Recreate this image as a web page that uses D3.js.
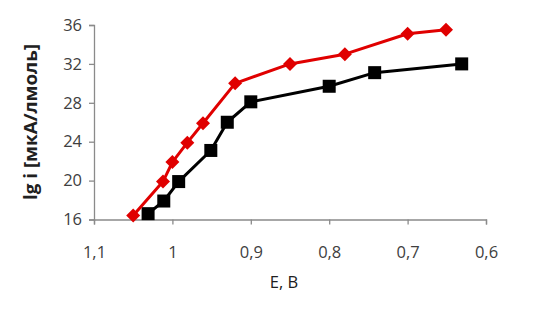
<!DOCTYPE html>
<html><head><meta charset="utf-8">
<script src="https://cdn.jsdelivr.net/npm/d3@7"></script>
<style>body{margin:0;background:#fff}svg{display:block}</style>
</head><body>
<svg id="c" width="557" height="311"></svg>
<script>
const redE = [1.05, 1.012, 1.0, 0.981, 0.961, 0.92, 0.85, 0.78, 0.70, 0.651];
const redLg = [16.4, 19.9, 21.9, 23.9, 25.9, 30.0, 32.0, 33.0, 35.1, 35.5];
const blackE = [1.031, 1.011, 0.992, 0.951, 0.930, 0.90, 0.80, 0.742, 0.631];
const blackLg = [16.6, 17.9, 19.9, 23.1, 26.0, 28.1, 29.7, 31.1, 32.0];
const xTicks = [1.1, 1.0, 0.9, 0.8, 0.7, 0.6];
const yTicks = [16, 20, 24, 28, 32, 36];
const xTitle = "E, B";
const yTitle = "lg i [мкА/лмоль]";

const svg = d3.select("#c");
const x = d3.scaleLinear().domain([1.1, 0.6]).range([94, 486]);
const y = d3.scaleLinear().domain([16, 36]).range([219.5, 25]);
const fmt = d => d3.format("")(d).replace(".", ",");
const font = "'Open Sans', 'Liberation Sans', sans-serif";

const xa = svg.append("g").attr("transform", "translate(0,219.5)")
  .call(d3.axisBottom(x).tickValues(xTicks).tickSize(5).tickPadding(22).tickFormat(fmt));
const ya = svg.append("g").attr("transform", "translate(94,0)")
  .call(d3.axisLeft(y).tickValues(yTicks).tickSize(5).tickPadding(7).tickFormat(fmt));
[xa, ya].forEach(a => {
  a.select(".domain").attr("stroke", "#8a8a8a").attr("stroke-width", 1.3);
  a.selectAll(".tick line").attr("stroke", "#8a8a8a").attr("stroke-width", 1.3);
  a.selectAll("text").attr("fill", "#404040").style("font-family", font).style("font-size", "16.5px");
});

const line = d3.line().x(d => x(d[0])).y(d => y(d[1]));
const black = blackE.map((e, i) => [e, blackLg[i]]);
const red = redE.map((e, i) => [e, redLg[i]]);

svg.append("path").datum(black).attr("d", line).attr("fill", "none")
  .attr("stroke", "#000").attr("stroke-width", 3).attr("stroke-linejoin", "round");
svg.selectAll(".sq").data(black).join("rect").attr("class", "sq")
  .attr("x", d => x(d[0]) - 6.5).attr("y", d => y(d[1]) - 6.5)
  .attr("width", 13).attr("height", 13).attr("fill", "#000");

svg.append("path").datum(red).attr("d", line).attr("fill", "none")
  .attr("stroke", "#e00000").attr("stroke-width", 3).attr("stroke-linejoin", "round");
svg.selectAll(".dm").data(red).join("path").attr("class", "dm")
  .attr("d", d => { const cx = x(d[0]), cy = y(d[1]), r = 7;
    return `M${cx},${cy - r}L${cx + r},${cy}L${cx},${cy + r}L${cx - r},${cy}Z`; })
  .attr("fill", "#e00000");

svg.append("text").attr("x", 284).attr("y", 288).attr("text-anchor", "middle")
  .attr("fill", "#202020").style("font-family", font).style("font-size", "16.5px").text(xTitle);
svg.append("text").attr("transform", "translate(37,122) rotate(-90)").attr("text-anchor", "middle")
  .attr("fill", "#202020").style("font-family", font).style("font-size", "17px").style("font-weight", "bold")
  .attr("textLength", 156).attr("lengthAdjust", "spacingAndGlyphs")
  .text(yTitle);
</script>
</body></html>
